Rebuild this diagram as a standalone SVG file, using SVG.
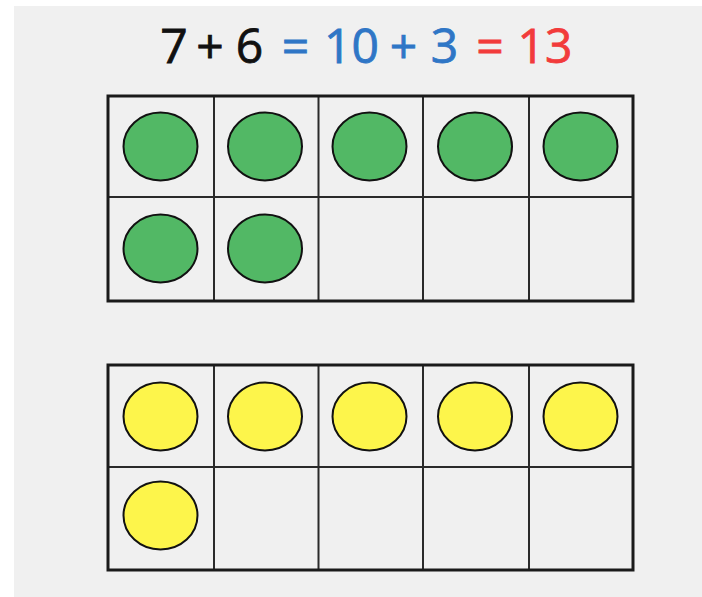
<svg xmlns="http://www.w3.org/2000/svg" width="702" height="597" viewBox="0 0 702 597">
<style>
.t{font-family:"Open Sans","Liberation Sans",sans-serif;font-size:48px;text-anchor:middle;stroke-width:0.8}
.k{fill:#111111;stroke:#111111}.b{fill:#2f76c6;stroke:#2f76c6}.r{fill:#f23b3b;stroke:#f23b3b}
.outer{fill:none;stroke:#1a1a1a;stroke-width:3}
.inner{stroke:#2a2a2a;stroke-width:2}
.g{fill:#52b865;stroke:#111;stroke-width:2}
.y{fill:#fdf54b;stroke:#111;stroke-width:2}
</style>
<rect x="0" y="0" width="702" height="597" fill="#ffffff"/>
<rect x="14" y="6" width="688" height="591" fill="#f0f0f0"/>
<g id="equation">
<text class="t k" x="174" y="63">7</text>
<text class="t k" x="210" y="63">+</text>
<text class="t k" x="249.5" y="63">6</text>
<text class="t b" x="295.5" y="63">=</text>
<text class="t b" x="351.5" y="63">10</text>
<text class="t b" x="403.5" y="63">+</text>
<text class="t b" x="444.5" y="63">3</text>
<text class="t r" x="490" y="63">=</text>
<text class="t r" x="545" y="63">13</text>
</g>
<g id="tenframe-green">
<g class="inner">
<line x1="108" y1="197" x2="633" y2="197"/>
<line x1="214" y1="96" x2="214" y2="301"/>
<line x1="318.5" y1="96" x2="318.5" y2="301"/>
<line x1="423" y1="96" x2="423" y2="301"/>
<line x1="529" y1="96" x2="529" y2="301"/>
</g>
<rect class="outer" x="108" y="96" width="525" height="205"/>
<ellipse class="g" cx="160.5" cy="146.5" rx="37" ry="34"/>
<ellipse class="g" cx="265" cy="146.5" rx="37" ry="34"/>
<ellipse class="g" cx="369.5" cy="146.5" rx="37" ry="34"/>
<ellipse class="g" cx="475" cy="146.5" rx="37" ry="34"/>
<ellipse class="g" cx="580.5" cy="146.5" rx="37" ry="34"/>
<ellipse class="g" cx="160.5" cy="248.5" rx="37" ry="34"/>
<ellipse class="g" cx="265" cy="248.5" rx="37" ry="34"/>
</g>
<g id="tenframe-yellow">
<g class="inner">
<line x1="108" y1="467" x2="633" y2="467"/>
<line x1="214" y1="365" x2="214" y2="570"/>
<line x1="318.5" y1="365" x2="318.5" y2="570"/>
<line x1="423" y1="365" x2="423" y2="570"/>
<line x1="529" y1="365" x2="529" y2="570"/>
</g>
<rect class="outer" x="108" y="365" width="525" height="205"/>
<ellipse class="y" cx="160.5" cy="416.5" rx="37" ry="34"/>
<ellipse class="y" cx="265" cy="416.5" rx="37" ry="34"/>
<ellipse class="y" cx="369.5" cy="416.5" rx="37" ry="34"/>
<ellipse class="y" cx="475" cy="416.5" rx="37" ry="34"/>
<ellipse class="y" cx="580.5" cy="416.5" rx="37" ry="34"/>
<ellipse class="y" cx="160.5" cy="515.5" rx="37" ry="34"/>
</g>
</svg>
